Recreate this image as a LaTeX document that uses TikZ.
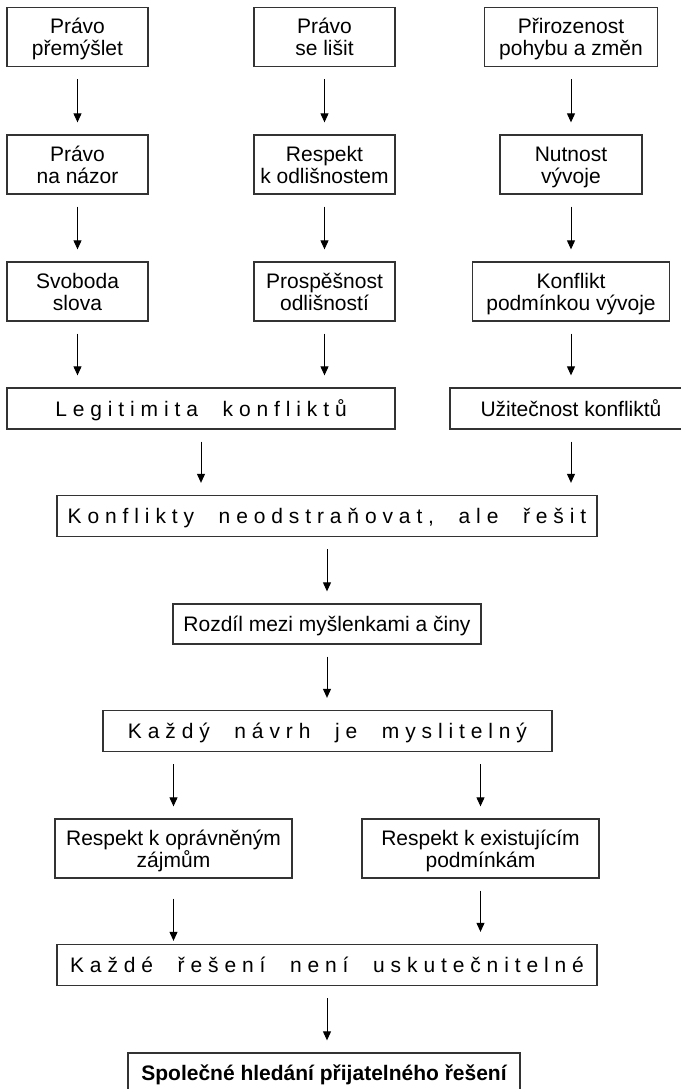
\documentclass[tikz,border=0pt]{standalone}
\usepackage{fontspec}
\setmainfont{Liberation Sans}
\newfontfamily\spacedfont[LetterSpace=28,WordSpace=2.1]{Liberation Sans}
\usetikzlibrary{positioning,arrows.meta}

\tikzset{
  box/.style={draw=black!80, line width=0.65pt, inner sep=0pt, align=center,
    minimum height=29.5pt, text height=18.5pt, text depth=0pt,
    font=\fontsize{10.5}{11}\selectfont},
  flat/.style={box, minimum height=20.5pt, text height=7.5pt},
  wide/.style={flat, font=\fontsize{10.5}{11}\selectfont\spacedfont},
  arr/.style={-{Triangle[length=4.5pt,width=4pt]}, line width=0.5pt,
    shorten <=6pt, shorten >=6pt}
}

\begin{document}
\begin{tikzpicture}[x=0.5pt,y=-0.5pt]
  \useasboundingbox (0,0) rectangle (681,1089);
  % three columns
  \node[box, minimum width=70.5pt] (think)   at (77.5,37) {Právo\\přemýšlet};
  \node[box, minimum width=70.5pt] (differ)  at (324.5,37) {Právo\\se lišit};
  \node[box, minimum width=86.5pt] (motion)  at (571,37) {Přirozenost\\pohybu a změn};
  \node[box, minimum width=70.5pt] (opinion) at (77.5,164.5) {Právo\\na názor};
  \node[box, minimum width=70.5pt] (respect) at (324.5,164.5) {Respekt\\k odlišnostem};
  \node[box, minimum width=71pt]   (need)    at (571,164.5) {Nutnost\\vývoje};
  \node[box, minimum width=70.5pt] (speech)  at (77.5,291.5) {Svoboda\\slova};
  \node[box, minimum width=70.5pt] (benefit) at (324.5,291.5) {Prospěšnost\\odlišností};
  \node[box, minimum width=98.5pt] (cond)    at (571,291.5) {Konflikt\\podmínkou vývoje};
  % merging part
  \node[wide, minimum width=194pt] (legit)  at (201,408.5) {Legitimita konfliktů};
  \node[flat, minimum width=121pt] (useful) at (571,408.5) {Užitečnost konfliktů};
  \node[wide, minimum width=270pt] (solve)  at (327,516) {Konflikty neodstraňovat, ale řešit};
  \node[flat, minimum width=154pt, minimum height=20pt] (gap) at (327,624) {Rozdíl mezi myšlenkami a činy};
  \node[wide, minimum width=224.5pt] (conceivable) at (327.5,731) {Každý návrh je myslitelný};
  \node[box, minimum width=118.5pt] (interests)  at (173.5,848.5) {Respekt k oprávněným\\zájmům};
  \node[box, minimum width=118.5pt] (conditions) at (480.5,848.5) {Respekt k existujícím\\podmínkám};
  \node[wide, minimum width=270pt] (feasible) at (327,965) {Každé řešení není uskutečnitelné};
  \node[flat, minimum width=196pt, minimum height=20pt,
    font=\fontsize{10.5}{11}\selectfont\bfseries] (joint) at (324,1073) {Společné hledání přijatelného řešení};

  \foreach \a/\b in {think/opinion, opinion/speech, differ/respect, respect/benefit,
    motion/need, need/cond, speech/legit, benefit/legit, cond/useful,
    legit/solve, useful/solve, solve/gap, gap/conceivable, conditions/feasible,
    feasible/joint}
    \draw[arr] (\a) -- (\a |- \b.north);
  \draw[arr] (interests |- conceivable.south) -- (interests);
  \draw[arr] (conditions |- conceivable.south) -- (conditions);
  \draw[arr, shorten <=10pt, shorten >=1.5pt] (interests) -- (interests |- feasible.north);
\end{tikzpicture}
\end{document}
